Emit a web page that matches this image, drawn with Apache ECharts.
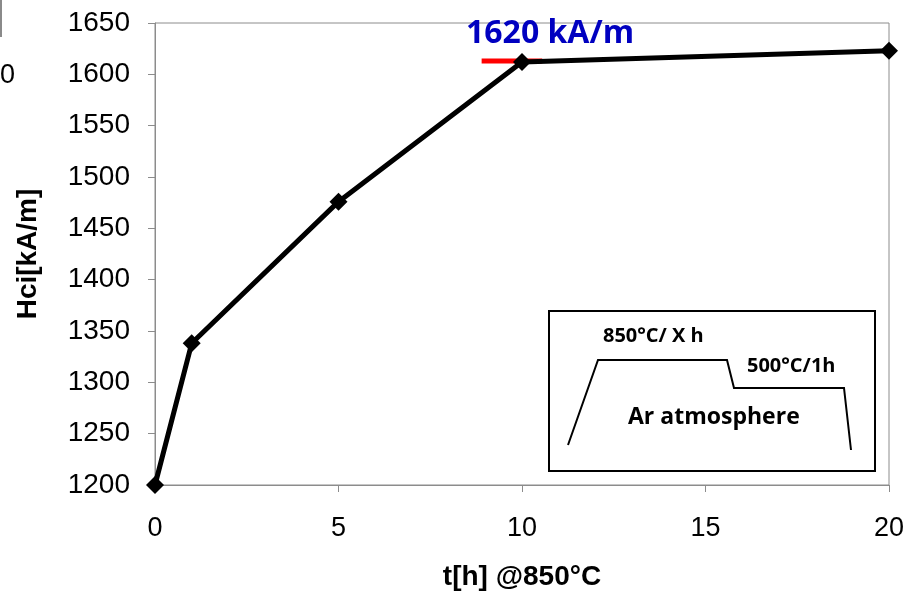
<!DOCTYPE html>
<html>
<head>
<meta charset="utf-8">
<script src="https://cdn.jsdelivr.net/npm/echarts@6/dist/echarts.min.js"></script>
<style>
  html, body { margin: 0; padding: 0; background: #fff; }
  #chart { width: 912px; height: 596px; }
</style>
</head>
<body>
<div id="chart"></div>
<script>
// annealing time at 850°C (h) vs coercivity Hci (kA/m)
const hours = [0, 1, 5, 10, 20]
const hci = [1200, 1338, 1476, 1612, 1623]
// red marker under the annotation
const markX = [8.9, 10.55]
const markY = 1613
const markText = '1620 kA/m'

const axisGray = '#8c8c8c'
const labelFont = 'Liberation Sans, Arial, sans-serif'
const calibriLike = 'Open Sans, Noto Sans, sans-serif'

const chart = echarts.init(document.getElementById('chart'))
chart.setOption({
  animation: false,
  backgroundColor: '#fff',
  grid: {
    left: 155, right: 23, top: 23, bottom: 111,
    outerBoundsMode: 'none', containLabel: false,
    show: true, borderColor: axisGray, borderWidth: 1
  },
  xAxis: {
    type: 'value', min: 0, max: 20, interval: 5,
    name: 't[h] @850°C', nameLocation: 'middle', nameGap: 78,
    nameTextStyle: { fontFamily: labelFont, fontWeight: 'bold', fontSize: 28, color: '#000' },
    axisLine: { lineStyle: { color: axisGray, width: 1 } },
    axisTick: { show: true, length: 7, lineStyle: { color: axisGray } },
    axisLabel: { fontFamily: labelFont, fontSize: 27, color: '#000', margin: 30 },
    splitLine: { show: false }
  },
  yAxis: {
    type: 'value', min: 1200, max: 1650, interval: 50,
    name: 'Hci[kA/m]', nameLocation: 'middle', nameGap: 113, nameRotate: 90,
    nameTextStyle: { fontFamily: labelFont, fontWeight: 'bold', fontSize: 28, color: '#000' },
    axisLine: { show: true, lineStyle: { color: axisGray, width: 1 } },
    axisTick: { show: true, length: 7, lineStyle: { color: axisGray } },
    axisLabel: { fontFamily: labelFont, fontSize: 28, color: '#000', margin: 25, formatter: v => String(v) },
    splitLine: { show: false }
  },
  series: [
    {
      type: 'line',
      data: hours.map((h, i) => [h, hci[i]]),
      lineStyle: { color: '#000', width: 5 },
      itemStyle: { color: '#000' },
      symbol: 'diamond', symbolSize: 18,
      z: 3
    },
    {
      type: 'line',
      data: markX.map(x => [x, markY]),
      lineStyle: { color: '#ff0000', width: 5 },
      symbol: 'none',
      z: 2
    }
  ],
  graphic: [
    // crop remnants at the top-left
    { type: 'rect', shape: { x: 0, y: 0, width: 2, height: 37 }, style: { fill: '#8a8a8a' } },
    { type: 'text', left: 0, top: 62, style: { text: '0', fontFamily: labelFont, fontSize: 27, fill: '#000' } },
    {
      type: 'text', left: 466, top: 18,
      style: { text: markText, fontFamily: calibriLike, fontWeight: 'bold', fontSize: 32, fill: '#0000c0' }
    },
    // heat-treatment inset
    {
      type: 'rect', shape: { x: 549, y: 311, width: 326, height: 160 },
      style: { fill: '#fff', stroke: '#000', lineWidth: 2 }
    },
    {
      type: 'polyline',
      shape: { points: [[568, 445], [598, 360], [727, 360], [734, 388], [844, 388], [851, 450]] },
      style: { stroke: '#000', lineWidth: 2, fill: null }
    },
    {
      type: 'text', left: 603, top: 326,
      style: { text: '850°C/ X h', fontFamily: calibriLike, fontWeight: 'bold', fontSize: 20, fill: '#000' }
    },
    {
      type: 'text', left: 747, top: 356,
      style: { text: '500°C/1h', fontFamily: calibriLike, fontWeight: 'bold', fontSize: 20, fill: '#000' }
    },
    {
      type: 'text', left: 628, top: 406,
      style: { text: 'Ar atmosphere', fontFamily: calibriLike, fontWeight: 'bold', fontSize: 23, fill: '#000' }
    }
  ]
})
</script>
</body>
</html>
